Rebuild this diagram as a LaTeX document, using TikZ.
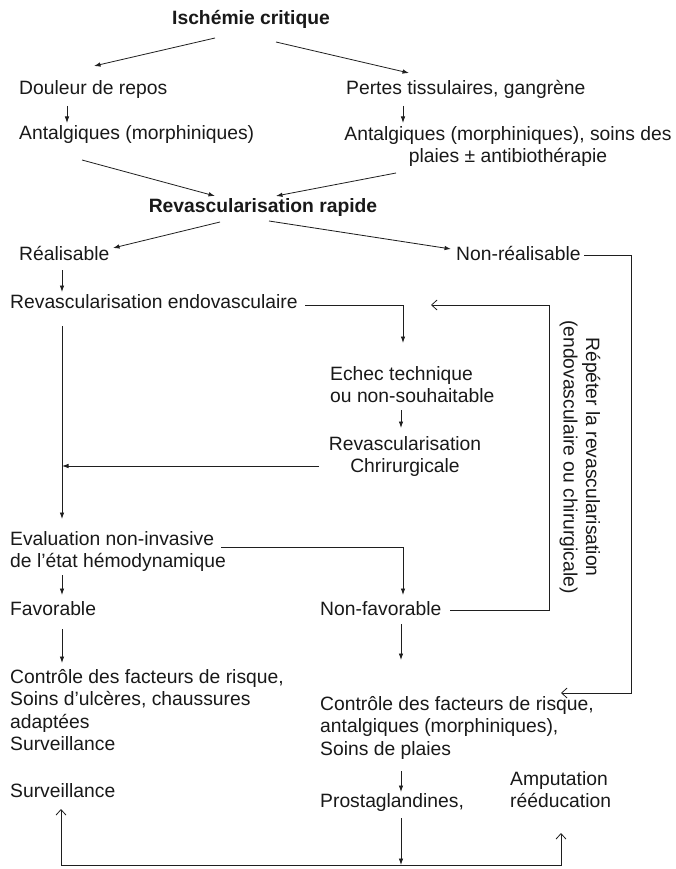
\documentclass[tikz,border=0pt]{standalone}
\usepackage{fontspec}
\setmainfont{Liberation Sans}
\usetikzlibrary{arrows.meta,calc}
\newcommand\myst{\rule{0pt}{18pt}}
\begin{document}
\begin{tikzpicture}[x=1pt,y=-1pt,
  every node/.style={inner sep=0pt, text=black!90, font=\fontsize{19.3}{22.5}\selectfont},
  tl/.style={anchor=base west},
  ml/.style={anchor=north west, align=left},
  mc/.style={anchor=north, align=center},
  bf/.style={font=\fontsize{19.3}{22.5}\selectfont\bfseries, anchor=base},
  line/.style={line width=0.8pt, draw=black!88},
  arr/.style={line, -{Latex[length=6.5pt,width=4.5pt]}},
  oarr/.style={line, -{Straight Barb[length=5.5pt,width=10pt]}}]
\fill[white] (0,0) rectangle (676,869);
\useasboundingbox (0,0) rectangle (676,869);

% nodes
\node[bf] (isch) at (251,25) {Ischémie critique};
\node[tl] (douleur) at (19,95) {Douleur de repos};
\node[tl] (pertes) at (346,95) {Pertes tissulaires, gangrène};
\node[tl] (antL) at (19,140) {Antalgiques (morphiniques)};
\node[mc] (antR) at (508,122) {\myst Antalgiques (morphiniques), soins des\\plaies ± antibiothérapie};
\node[bf] (rapide) at (263,212) {Revascularisation rapide};
\node[tl] (real) at (19,260) {Réalisable};
\node[tl] (nonreal) at (456,260) {Non-réalisable};
\node[tl] (endo) at (10,308) {Revascularisation endovasculaire};
\node[ml] (echec) at (330,362) {\myst Echec technique\\ou non-souhaitable};
\node[mc] (chir) at (405,432) {\myst Revascularisation\\Chrirurgicale};
\node[ml] (eval) at (10,527) {\myst Evaluation non-invasive\\de l’état hémodynamique};
\node[tl] (fav) at (10,615) {Favorable};
\node[tl] (nonfav) at (320,615) {Non-favorable};
\node[ml] (ctrlL) at (10,665) {\myst Contrôle des facteurs de risque,\\Soins d’ulcères, chaussures\\adaptées\\Surveillance};
\node[ml] (ctrlR) at (320,692) {\myst Contrôle des facteurs de risque,\\antalgiques (morphiniques),\\Soins de plaies};
\node[tl] (surv) at (10,797) {Surveillance};
\node[tl] (prosta) at (320,807) {Prostaglandines,};
\node[ml] (amput) at (510,767) {\myst Amputation\\rééducation};
\node[rotate=-90, align=center] (repeat) at (580,457) {Répéter la revascularisation\\(endovasculaire ou chirurgicale)};

% connectors
\draw[arr] ($(isch.base)+(-36,13)$) -- ($(douleur.base west)+(75,-29)$);
\draw[arr] ($(isch.base)+(25,17)$) -- ($(pertes.base west)+(63,-22)$);
\draw[arr] ($(douleur.base west)+(48,11)$) -- ($(antL.base west)+(48,-17)$);
\draw[arr] ($(pertes.base west)+(57,11)$) -- ($(antR.north)+(-105,1)$);
\draw[arr] ($(antL.base west)+(63,20)$) -- ($(rapide.base)+(-48,-16)$);
\draw[arr] ($(antR.north)+(-112,51)$) -- ($(rapide.base)+(13,-16)$);
\draw[arr] ($(rapide.base)+(-43,10)$) -- ($(real.base west)+(94,-12)$);
\draw[arr] ($(rapide.base)+(6,9)$) -- ($(nonreal.base west)+(-5,-11)$);
\draw[arr] ($(real.base west)+(43,10)$) -- ($(endo.base west)+(52,-16)$);
\draw[arr] ($(endo.base west)+(295,-3)$) -| ($(echec.north west)+(73,-19)$);
\draw[arr] ($(endo.base west)+(52,18)$) -- ($(eval.north west)+(52,-8)$);
\draw[arr] ($(echec.north west)+(71,48)$) -- ($(chir.north)+(-4,-4)$);
\draw[arr] ($(chir.north)+(-86,34)$) -- ($(endo.base west)+(52,158)$);
\draw[arr] ($(eval.north west)+(211,20)$) -| ($(nonfav.base west)+(83,-20)$);
\draw[arr] ($(eval.north west)+(52,48)$) -- ($(fav.base west)+(52,-20)$);
\draw[oarr] ($(nonfav.base west)+(130,-5)$) -- ($(nonfav.base west)+(229,-5)$) |- ($(endo.base west)+(421,-3)$);
\draw[oarr] ($(nonreal.base west)+(128,-5)$) -- ($(nonreal.base west)+(175,-5)$) |- ($(ctrlR.north west)+(241,1)$);
\draw[arr] ($(fav.base west)+(52,14)$) -- ($(ctrlL.north west)+(52,-2)$);
\draw[arr] ($(nonfav.base west)+(81,9)$) -- ($(ctrlR.north west)+(81,-32)$);
\draw[arr] ($(ctrlR.north west)+(81,79)$) -- ($(prosta.base west)+(81,-15)$);
\coordinate (bot) at ($(prosta.base west)+(81,58)$);
\draw[arr] ($(prosta.base west)+(81,11)$) -- (bot);
\draw[oarr] (bot) -| ($(surv.base west)+(51,12)$);
\draw[oarr] (bot) -| ($(amput.north west)+(51,66)$);
\end{tikzpicture}
\end{document}
